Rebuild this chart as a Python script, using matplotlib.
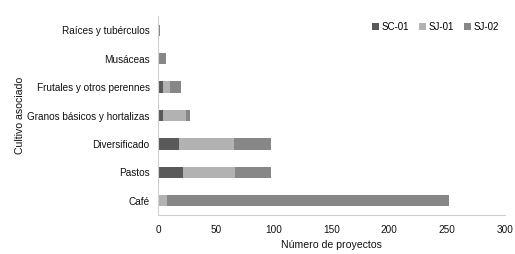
import matplotlib
matplotlib.use("Agg")
import matplotlib.pyplot as plt
import numpy as np

plt.rcParams["font.family"] = ["Liberation Sans", "DejaVu Sans"]

cultivos = ["Café", "Pastos", "Diversificado", "Granos básicos y hortalizas",
            "Frutales y otros perennes", "Musáceas", "Raíces y tubérculos"]
sc01 = [0, 22, 18, 4, 4, 0, 0]
sj01 = [8, 45, 48, 20, 6, 0, 0]
sj02 = [244, 31, 32, 4, 10, 7, 2]

series = [("SC-01", sc01, "#595959"),
          ("SJ-01", sj01, "#b2b2b2"),
          ("SJ-02", sj02, "#878787")]

fig = plt.figure(figsize=(5.15, 2.54), dpi=100)
ax = fig.add_axes([158 / 515, 39 / 254, 347 / 515, 199 / 254])

y = np.arange(len(cultivos))
left = np.zeros(len(cultivos))
for name, vals, color in series:
    ax.barh(y, vals, left=left, height=0.4, color=color, label=name)
    left += np.array(vals)

ax.set_xlim(0, 300)
ax.set_ylim(-0.5, len(cultivos) - 0.5)
ax.set_xticks([0, 50, 100, 150, 200, 250, 300])
ax.set_yticks(y)
ax.set_yticklabels(cultivos)
ax.tick_params(length=0, labelsize=7.2, colors="#111111", pad=6)
ax.tick_params(axis="x", pad=7)
for s in ["top", "right"]:
    ax.spines[s].set_visible(False)
for s in ["left", "bottom"]:
    ax.spines[s].set_color("#d0d0d0")
    ax.spines[s].set_linewidth(0.8)

ax.set_xlabel("Número de proyectos", fontsize=7.6, color="#111111", labelpad=4)
ax.set_ylabel("Cultivo asociado", fontsize=7.6, color="#111111", labelpad=2)

ax.legend(loc="upper right", bbox_to_anchor=(1.0, 1.0), ncol=3, frameon=False,
          fontsize=7, handlelength=0.7, handleheight=0.7, handletextpad=0.3,
          columnspacing=1.0, borderaxespad=0.2)

fig.savefig("out.png", dpi=100)
